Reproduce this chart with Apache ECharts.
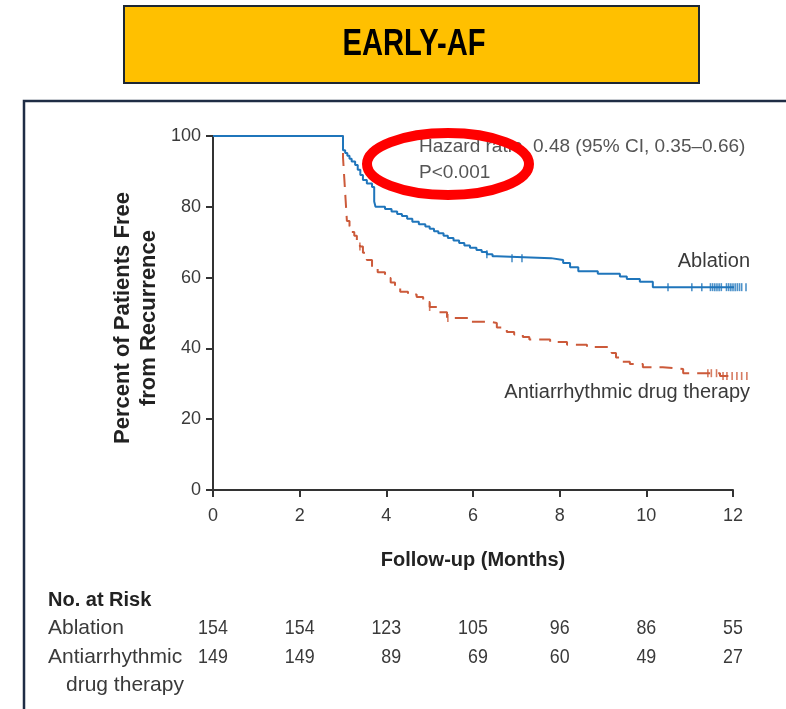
<!DOCTYPE html>
<html>
<head>
<meta charset="utf-8">
<script src="https://cdn.jsdelivr.net/npm/echarts@6/dist/echarts.min.js"></script>
<style>
  html, body { margin: 0; padding: 0; background: #ffffff; }
  #chart { width: 786px; height: 709px; }
</style>
</head>
<body>
<div id="chart"></div>
<script>
// Kaplan-Meier curves: freedom from atrial tachyarrhythmia recurrence (EARLY-AF)
const ablationTime = [0, 3.0, 3.05, 3.1, 3.15, 3.2, 3.28, 3.34, 3.4, 3.46, 3.55, 3.67, 3.72, 3.75,
  3.97, 4.12, 4.25, 4.36, 4.48, 4.6, 4.75, 4.9, 5.0, 5.1, 5.2, 5.32, 5.42, 5.55, 5.68, 5.8, 5.93,
  6.08, 6.2, 6.32, 6.45, 6.55, 7.8, 8.08, 8.24, 8.43, 8.88, 9.39, 9.55, 9.85, 10.15, 12.35];
const ablationSurv = [100, 96, 95.2, 94.4, 93.6, 92.8, 91.8, 90.5, 89, 87.6, 86.6, 85.6, 81.5, 80,
  79.4, 78.7, 78, 77.4, 76.6, 75.8, 75.1, 74.4, 73.8, 73.1, 72.5, 71.8, 71.2, 70.5, 69.8, 69.1, 68.4,
  67.8, 67.2, 66.6, 66, 65.5, 65.0, 64.1, 62.9, 61.8, 61.1, 60.3, 59.6, 58.8, 57.3, 57.3];
const ablationCensored = [6.32, 6.9, 7.13, 10.5, 11.05, 11.28, 11.48, 11.53, 11.58, 11.63, 11.68, 11.73,
  11.85, 11.9, 11.95, 12.0, 12.05, 12.1, 12.15, 12.2, 12.3];

const drugTime = [0, 3.0, 3.03, 3.06, 3.09, 3.15, 3.2, 3.26, 3.32, 3.39, 3.46, 3.55, 3.67, 3.8, 3.97,
  4.1, 4.2, 4.32, 4.5, 4.7, 4.85, 5.0, 5.2, 5.4, 5.93, 6.39, 6.55, 6.78, 6.95, 7.15, 7.3, 7.78, 8.17,
  8.63, 9.12, 9.2, 9.3, 9.39, 9.62, 9.92, 10.38, 10.85, 11.7, 12.32];
const drugSurv = [100, 94, 88, 82, 76, 74.5, 72.9, 71.8, 70.6, 68.8, 67, 65, 63, 61.5, 59.9,
  58.6, 57.3, 56, 55.2, 54.5, 53.1, 51.7, 50.2, 48.6, 47.5, 47.2, 45.9, 44.6, 43.9, 43.2, 42.5, 41.8, 41,
  40.4, 40.1, 38.7, 37.4, 36.2, 35.6, 34.7, 34.2, 33.0, 32.2, 32.2];
const drugCensored = [3.39, 5.0, 5.42, 11.42, 11.5, 11.62, 11.77, 11.86, 11.98, 12.09, 12.2, 12.32];

// Number at risk table
const riskMonths = [0, 2, 4, 6, 8, 10, 12];
const riskAblation = [154, 154, 123, 105, 96, 86, 55];
const riskDrug = [149, 149, 89, 69, 60, 49, 27];

const chartTitle = 'EARLY-AF';
const hazardText = 'Hazard ratio, 0.48 (95% CI, 0.35\u20130.66)';
const pText = 'P<0.001';

const BLUE = '#1f75bb';
const RED = '#cc5a3a';
const TEXT = '#3a3a3a';
const TXT_FONT = "'Liberation Sans', Arial, sans-serif";
const NARROW = 0.85;   // horizontal squeeze for the condensed numerals

function pairs(xs, ys) { return xs.map((x, i) => [x, ys[i]]); }
function survivalAt(xs, ys, t) {
  let v = ys[0];
  for (let i = 0; i < xs.length; i++) { if (xs[i] <= t) v = ys[i]; }
  return v;
}

const chart = echarts.init(document.getElementById('chart'), null, { renderer: 'canvas' });

chart.setOption({
  backgroundColor: '#ffffff',
  animation: false,
  grid: { left: 213, top: 136, width: 520, height: 354 },
  xAxis: {
    type: 'value', min: 0, max: 12, interval: 2,
    axisLine: { show: true, onZero: false, lineStyle: { color: '#333', width: 2 } },
    axisTick: { show: true, length: 7, lineStyle: { color: '#333', width: 2 } },
    axisLabel: { fontFamily: TXT_FONT, fontSize: 18, color: TEXT, margin: 17 },
    splitLine: { show: false }
  },
  yAxis: {
    type: 'value', min: 0, max: 100, interval: 20,
    axisLine: { show: true, lineStyle: { color: '#333', width: 2 } },
    axisTick: { show: true, length: 7, lineStyle: { color: '#333', width: 2 } },
    axisLabel: { fontFamily: TXT_FONT, fontSize: 18, color: TEXT, margin: 12 },
    splitLine: { show: false }
  },
  series: [
    {
      name: 'Ablation', type: 'line', step: 'end', clip: false, symbol: 'none', z: 4,
      data: pairs(ablationTime, ablationSurv),
      lineStyle: { color: BLUE, width: 2 }
    },
    {
      name: 'Antiarrhythmic drug therapy', type: 'line', step: 'end', clip: false, symbol: 'none', z: 3,
      data: pairs(drugTime, drugSurv),
      lineStyle: { color: RED, width: 2, type: [13, 8] }
    },
    {
      type: 'scatter', clip: false, symbol: 'rect', symbolSize: [1.6, 8], z: 4,
      data: ablationCensored.map(t => [t, survivalAt(ablationTime, ablationSurv, t)]),
      itemStyle: { color: BLUE }
    },
    {
      type: 'scatter', clip: false, symbol: 'rect', symbolSize: [1.6, 8], z: 3,
      data: drugCensored.map(t => [t, survivalAt(drugTime, drugSurv, t)]),
      itemStyle: { color: RED }
    }
  ]
});

// text measurement for right-aligning the second at-risk row under the first
const measureCtx = document.createElement('canvas').getContext('2d');
function textWidth(str, font) { measureCtx.font = font; return measureCtx.measureText(str).width; }

function label(text, x, y, opts, extra) {
  return Object.assign({
    type: 'text', x: x, y: y, z: 20, silent: true,
    style: Object.assign({
      text: text, fill: TEXT, font: '20px ' + TXT_FONT,
      align: 'left', verticalAlign: 'middle', textAlign: 'left', textVerticalAlign: 'middle'
    }, opts || {})
  }, extra || {});
}

const px = t => chart.convertToPixel({ xAxisIndex: 0 }, t);
const py = v => chart.convertToPixel({ yAxisIndex: 0 }, v);

const numFont = '21px ' + TXT_FONT;
const riskRowY = [628, 657];
const tableItems = [];
riskMonths.forEach((m, i) => {
  const cx = px(m);
  const w1 = textWidth(String(riskAblation[i]), numFont) * NARROW;
  const right = cx + w1 / 2;
  tableItems.push(label(String(riskAblation[i]), right, riskRowY[0],
    { font: numFont, align: 'right', textAlign: 'right' }, { scaleX: NARROW }));
  tableItems.push(label(String(riskDrug[i]), right, riskRowY[1],
    { font: numFont, align: 'right', textAlign: 'right' }, { scaleX: NARROW }));
});

const elements = [
  // outer panel frame
  { type: 'polyline', z: 1, silent: true,
    shape: { points: [[24, 709], [24, 101], [786, 101]] },
    style: { stroke: '#1f2d45', lineWidth: 2.5, fill: null } },
  // title banner
  { type: 'rect', z: 1, silent: true,
    shape: { x: 124, y: 6, width: 575, height: 77 },
    style: { fill: '#ffc000', stroke: '#1d2733', lineWidth: 2 } },
  label(chartTitle, 414, 45, { font: 'bold 36px ' + TXT_FONT, fill: '#000', align: 'center', textAlign: 'center' },
    { scaleX: 0.81 }),
  // axis titles
  label('Follow-up (Months)', px(6), 560,
    { font: 'bold 20px ' + TXT_FONT, fill: '#222', align: 'center', textAlign: 'center' }),
  label('Percent of Patients Free\nfrom Recurrence', 136, 318,
    { font: 'bold 22px ' + TXT_FONT, fill: '#222', align: 'center', textAlign: 'center', lineHeight: 26 },
    { rotation: Math.PI / 2 }),
  // statistics
  label(hazardText, 419, 147, { font: '19px ' + TXT_FONT, fill: '#555' }),
  label(pText, 419, 173, { font: '19px ' + TXT_FONT, fill: '#555' }),
  // curve labels
  label('Ablation', 750, py(64.5), { align: 'right', textAlign: 'right' }),
  label('Antiarrhythmic drug therapy', 750, py(27.5), { align: 'right', textAlign: 'right' }),
  // highlight ring around the statistics
  { type: 'ellipse', z: 30, silent: true,
    shape: { cx: 448, cy: 164, rx: 81, ry: 31 },
    style: { stroke: '#ff0000', lineWidth: 10, fill: null } },
  // number at risk
  label('No. at Risk', 48, 600, { font: 'bold 20px ' + TXT_FONT, fill: '#222' }),
  label('Ablation', 48, riskRowY[0], { font: '21px ' + TXT_FONT }),
  label('Antiarrhythmic', 48, riskRowY[1], { font: '21px ' + TXT_FONT }),
  label('drug therapy', 66, 685, { font: '21px ' + TXT_FONT })
].concat(tableItems);

chart.setOption({ graphic: { elements: elements } });
</script>
</body>
</html>
